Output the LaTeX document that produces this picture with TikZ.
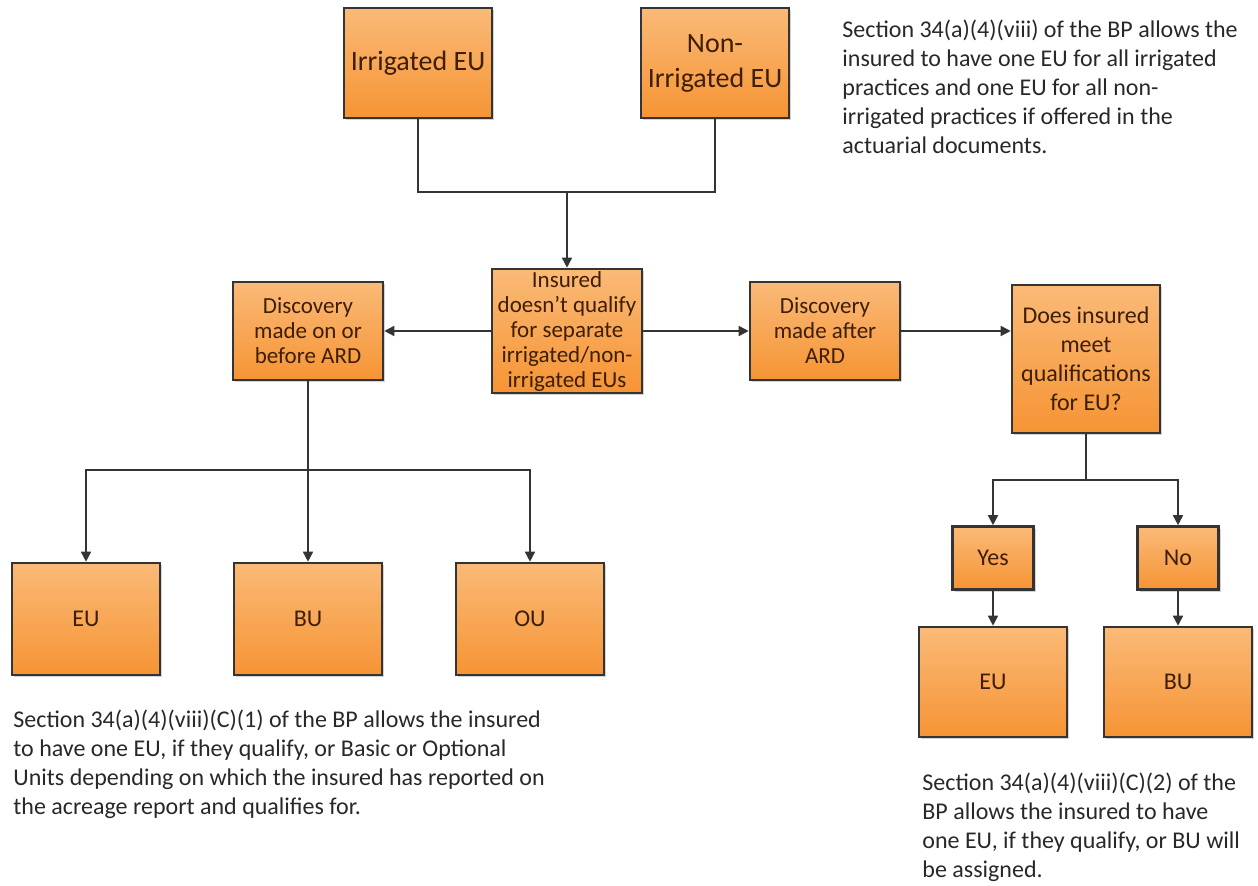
\documentclass[tikz,border=0pt]{standalone}
\usepackage{fontspec}
\setmainfont{Carlito}
\usetikzlibrary{positioning, arrows.meta, shadows}

\definecolor{boxtop}{RGB}{250,186,120}
\definecolor{boxbottom}{RGB}{246,148,52}
\definecolor{boxline}{RGB}{52,52,52}
\definecolor{boxtext}{RGB}{62,30,4}
\definecolor{notetext}{RGB}{40,40,40}

\tikzset{
    box/.style={draw=boxline, line width=1.3pt, top color=boxtop, bottom color=boxbottom,
        text=boxtext, align=center, inner sep=0pt,
        drop shadow={shadow xshift=1.2pt, shadow yshift=-1.2pt, opacity=0.35}},
    note/.style={anchor=north west, align=left, inner sep=0pt, text=notetext,
        font=\fontsize{12}{14.5}\selectfont},
    wire/.style={draw=boxline, line width=0.8pt},
    flow/.style={wire, -{Triangle[length=5pt, width=5pt]}},
}

\begin{document}
\begin{tikzpicture}[x=0.5pt, y=-0.5pt]
        \useasboundingbox (0, 0) rectangle (1258, 886);

        % top row
        \node[box, minimum width=74pt, minimum height=55pt, font=\fontsize{14}{17.5}\selectfont] (irr) at (418, 63) {Irrigated EU}; % irrigated
        \node[box, minimum width=74pt, minimum height=55pt, font=\fontsize{14}{17.5}\selectfont] (nonirr) at (715, 63) {Non-\\Irrigated EU}; % non-irrigated
        \coordinate (topjoin) at (567, 192);

        % middle row
        \node[box, minimum width=75pt, minimum height=62pt, font=\fontsize{11.5}{12.5}\selectfont] (ins) at (567, 331) {Insured\\doesn't qualify\\for separate\\irrigated/non-\\irrigated EUs}; % insured
        \node[box, minimum width=75pt, minimum height=49pt, font=\fontsize{11.5}{12.5}\selectfont] (before) at (308, 331) {Discovery\\made on or\\before ARD}; % on or before
        \node[box, minimum width=75pt, minimum height=49pt, font=\fontsize{11.5}{12.5}\selectfont] (after) at (825, 331) {Discovery\\made after\\ARD}; % after
        \node[box, minimum width=74pt, minimum height=74pt, font=\fontsize{12}{14.5}\selectfont] (does) at (1086, 359) {Does insured\\meet\\qualifications\\for EU?}; % question

        % left branch
        \coordinate (leftjoin) at (308, 470);
        \node[box, minimum width=74pt, minimum height=56pt, font=\fontsize{12}{14}\selectfont] (eu1) at (86, 619) {EU}; % EU
        \node[box, minimum width=74pt, minimum height=56pt, font=\fontsize{12}{14}\selectfont] (bu1) at (308, 619) {BU}; % BU
        \node[box, minimum width=74pt, minimum height=56pt, font=\fontsize{12}{14}\selectfont] (ou1) at (530, 619) {OU}; % OU

        % right branch
        \coordinate (rightjoin) at (1086, 480);
        \node[box, minimum width=40.5pt, minimum height=31.5pt, font=\fontsize{12}{14}\selectfont] (yes) at (993, 558) {Yes}; % yes
        \node[box, minimum width=40.5pt, minimum height=31.5pt, font=\fontsize{12}{14}\selectfont] (no) at (1178, 558) {No}; % no
        \node[box, minimum width=74pt, minimum height=55pt, font=\fontsize{12}{14}\selectfont] (eu2) at (993, 682) {EU}; % EU
        \node[box, minimum width=74pt, minimum height=55pt, font=\fontsize{12}{14}\selectfont] (bu2) at (1178, 682) {BU}; % BU

        % notes
        \node[note] (note1) at (842, 20) {Section 34(a)(4)(viii) of the BP allows the\\insured to have one EU for all irrigated\\practices and one EU for all non-\\irrigated practices if offered in the\\actuarial documents.};
        \node[note] (note2) at (13, 710) {Section 34(a)(4)(viii)(C)(1) of the BP allows the insured\\to have one EU, if they qualify, or Basic or Optional\\Units depending on which the insured has reported on\\the acreage report and qualifies for.};
        \node[note] (note3) at (922, 773) {Section 34(a)(4)(viii)(C)(2) of the\\BP allows the insured to have\\one EU, if they qualify, or BU will\\be assigned.};

        % connectors
        \draw[wire] (irr) |- (topjoin) -| (nonirr);
        \draw[flow] (topjoin) -- (ins);
        \draw[flow] (ins) -- (before);
        \draw[flow] (ins) -- (after);
        \draw[flow] (after.east) -- (after.east -| does.west);
        \draw[flow] (before) -- (bu1);
        \draw[flow] (leftjoin) -| (eu1);
        \draw[flow] (leftjoin) -| (ou1);
        \draw[wire] (does) -- (rightjoin);
        \draw[flow] (rightjoin) -| (yes);
        \draw[flow] (rightjoin) -| (no);
        \draw[flow] (yes) -- (eu2);
        \draw[flow] (no) -- (bu2);
    \end{tikzpicture}
\end{document}
